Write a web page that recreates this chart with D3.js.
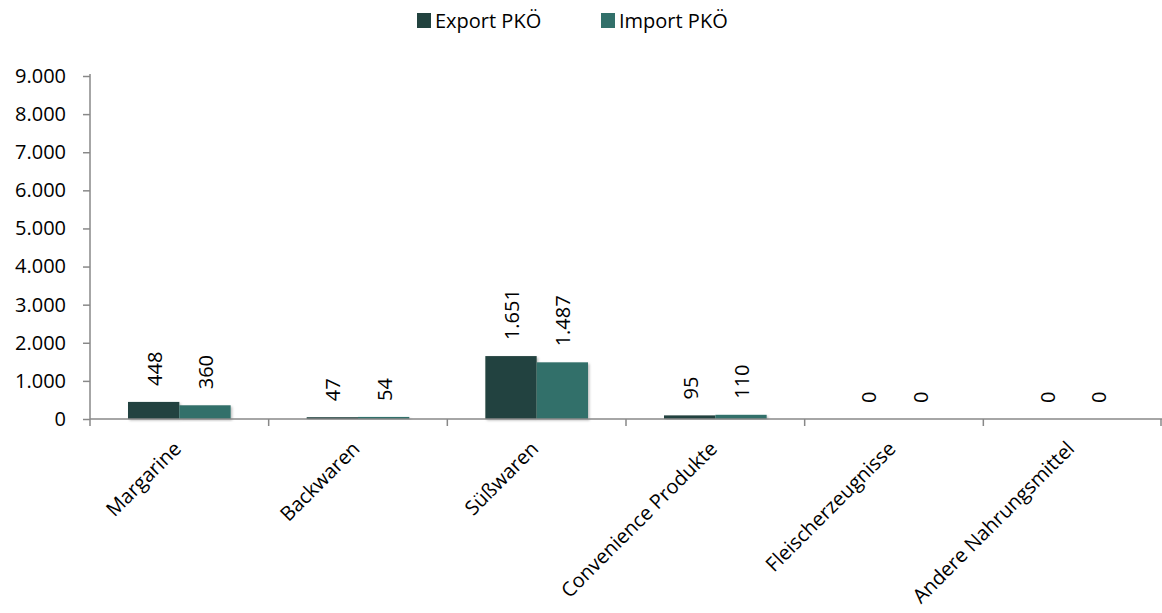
<!DOCTYPE html>
<html><head><meta charset="utf-8">
<script src="https://cdn.jsdelivr.net/npm/d3@7"></script>
<style>
body{margin:0;background:#fff;}
text{font-family:"Open Sans",Carlito,Lato,sans-serif;fill:#000;}
</style></head>
<body><svg id="c" width="1162" height="613"></svg>
<script>
const categories = ["Margarine","Backwaren","Süßwaren","Convenience Produkte","Fleischerzeugnisse","Andere Nahrungsmittel"];
const seriesNames = ["Export PKÖ","Import PKÖ"];
const exportValues = [448,47,1651,95,0,0];
const importValues = [360,54,1487,110,0,0];
const yTicks = [0,1000,2000,3000,4000,5000,6000,7000,8000,9000];
const colors = ["#22433f","#32706a"];

const FONT = "'Open Sans',Carlito,Lato,sans-serif";
const FS = 20;
const svg = d3.select("#c");
const mLeft = 90, mRight = 1162, mTop = 76, mBottom = 419;
const loc = d3.formatLocale({decimal:",",thousands:".",grouping:[3],currency:["","€"]});
const fmt = loc.format(",d");

const x = d3.scaleBand().domain(categories).range([mLeft,mRight]).paddingInner(0).paddingOuter(0);
const inner = d3.scaleBand().domain(seriesNames).range([38, x.bandwidth()-38]);
const y = d3.scaleLinear().domain([0,9000]).range([mBottom,mTop]);

const data = categories.map((c,i)=>({c, vals:[exportValues[i], importValues[i]]}));

const defs = svg.append("defs");
const f = defs.append("filter").attr("id","sh").attr("x","-10%").attr("y","-10%").attr("width","130%").attr("height","130%");
f.append("feDropShadow").attr("dx",1.5).attr("dy",1.5).attr("stdDeviation",1).attr("flood-color","#000").attr("flood-opacity",0.25);

const g = svg.append("g");
data.forEach(d=>{
  d.vals.forEach((v,j)=>{
    const bx = x(d.c)+inner(seriesNames[j]);
    if (v>0) g.append("rect").attr("x",bx).attr("y",y(v)).attr("width",inner.bandwidth()).attr("height",y(0)-y(v))
      .attr("fill",colors[j]).attr("filter","url(#sh)");
    const cx = bx+inner.bandwidth()/2;
    const ty = y(v)-16;
    g.append("text").attr("transform",`translate(${cx+8},${ty}) rotate(-90)`)
      .attr("font-size",FS).attr("text-anchor","start").text(fmt(v));
  });
});

const ya = svg.append("g").attr("transform",`translate(${mLeft},0)`)
  .call(d3.axisLeft(y).tickValues(yTicks).tickFormat(fmt).tickSize(7).tickPadding(17));
ya.select(".domain").attr("stroke","#888").attr("stroke-width",1.5).attr("d",`M0,${mTop-2}V${mBottom}`);
ya.selectAll(".tick line").attr("stroke","#888").attr("stroke-width",1.5);
ya.selectAll(".tick text").attr("font-size",FS).attr("fill","#000").style("font-family",FONT);

const xa = svg.append("g").attr("transform",`translate(0,${mBottom})`);
xa.append("line").attr("x1",mLeft).attr("x2",mRight).attr("stroke","#888").attr("stroke-width",1.5);
const bounds = categories.map(c=>x(c)).concat([mRight]);
xa.selectAll(".xt").data(bounds).enter().append("line")
  .attr("x1",d=>Math.min(d,mRight-1)).attr("x2",d=>Math.min(d,mRight-1)).attr("y1",0).attr("y2",7)
  .attr("stroke","#888").attr("stroke-width",1.5);
xa.selectAll(".xl").data(categories).enter().append("text")
  .attr("transform",d=>`translate(${x(d)+x.bandwidth()/2+3},${31}) rotate(-45)`)
  .attr("text-anchor","end").attr("font-size",FS).text(d=>d);

const lg = svg.append("g");
const lx = [417,601];
seriesNames.forEach((s,i)=>{
  lg.append("rect").attr("x",lx[i]).attr("y",13).attr("width",14).attr("height",15).attr("fill",colors[i]);
  lg.append("text").attr("x",lx[i]+18).attr("y",28).attr("font-size",FS).text(s);
});
</script></body></html>
